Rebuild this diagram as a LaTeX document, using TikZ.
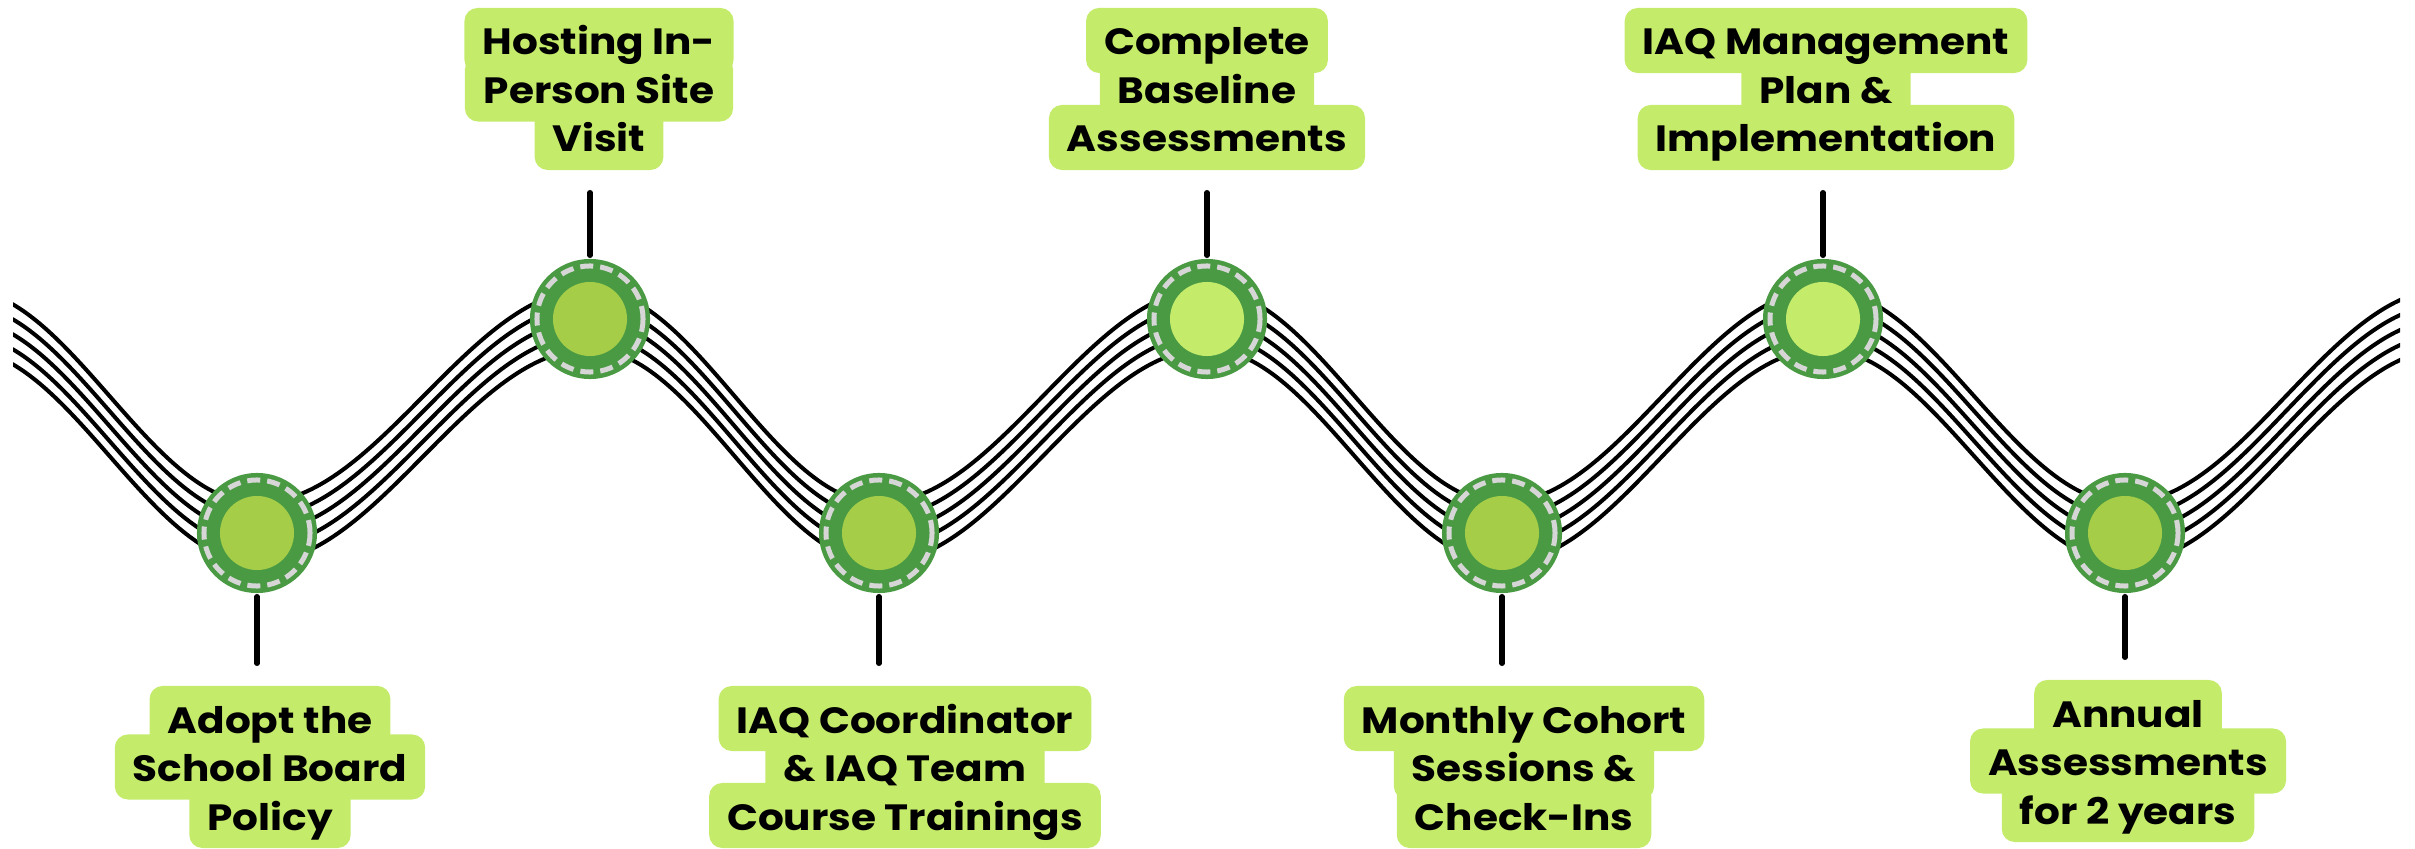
\documentclass[tikz,border=0pt]{standalone}
\usepackage{fontspec}
\setmainfont{Poppins}[FakeStretch=1.11]
\usepackage{tikz}
\usetikzlibrary{calc,positioning}
\definecolor{ring}{HTML}{4A9A44}
\definecolor{leaf}{HTML}{A5CD48}
\definecolor{lime}{HTML}{C5EB6B}
\definecolor{dashgray}{HTML}{D6D6D6}

\begin{document}
\begin{tikzpicture}[
  x=0.01cm, y=-0.01cm,
  wire/.style={line width=0.04cm},
  stem/.style={line width=0.055cm, line cap=round, shorten <=0.03cm, shorten >=0.22cm},
  dot/.style={circle, fill=ring, minimum size=1.2cm, inner sep=0pt,
    path picture={\fill[#1] (path picture bounding box.center) circle (0.37cm);
      \draw[dashgray, line width=0.05cm, dash pattern=on 0.13cm off 0.07cm]
        (path picture bounding box.center) circle (0.53cm);}},
  dot/.default=leaf,
  lbl/.style={fill=lime, rounded corners=0.13cm, anchor=base, inner xsep=0.18cm, inner ysep=0pt,
    text height=0.47cm, text depth=0.18cm, font=\fontsize{10.4}{12}\selectfont\bfseries}
]
\useasboundingbox (0,0) rectangle (2415,849);

% five strands of the wave
\begin{scope}
\clip (13,0) rectangle (2400,849);
\foreach \d in {-30,-15,0,15,30}
  \draw[wire] (-38,{319+\d})
    \foreach \x/\y [remember=\x as \px (initially -38)] in
      {257/533,590/319,879/533,1207/319,1502/533,1823/319,2125/533,2447/319}
    { cos ({(\px+\x)/2},{426+\d}) sin (\x,{\y+\d}) };
\end{scope}

\node[dot] (c1) at (257,533) {};
\node[dot] (c2) at (590,319) {};
\node[dot] (c3) at (879,533) {};
\node[dot=lime] (c4) at (1207,319) {};
\node[dot] (c5) at (1502,533) {};
\node[dot=lime] (c6) at (1823,319) {};
\node[dot] (c7) at (2125,533) {};

% labels, lowest line first
\node[lbl] (t1c) at (270,830) {Policy};
\node[lbl] (t1b) at (270,781.5) {School Board};
\node[lbl] (t1a) at (270,733) {Adopt the};

\node[lbl] (t2c) at (599,152) {Visit};
\node[lbl,minimum width=2.68cm] (t2b) at (599,103.5) {Person Site};
\node[lbl,minimum width=2.68cm] (t2a) at (599,55) {Hosting In-};

\node[lbl] (t3c) at (905,830) {Course Trainings};
\node[lbl] (t3b) at (905,781.5) {\& IAQ Team};
\node[lbl] (t3a) at (905,733) {IAQ Coordinator};

\node[lbl] (t4c) at (1207,152) {Assessments};
\node[lbl] (t4b) at (1207,103.5) {Baseline};
\node[lbl] (t4a) at (1207,55) {Complete};

\node[lbl,minimum width=2.52cm] (t5c) at (1524,830) {Check-Ins};
\node[lbl,minimum width=2.52cm] (t5b) at (1524,781.5) {Sessions \&};
\node[lbl] (t5a) at (1524,733) {Monthly Cohort};

\node[lbl] (t6c) at (1826,152) {Implementation};
\node[lbl] (t6b) at (1826,103.5) {Plan \&};
\node[lbl] (t6a) at (1826,55) {IAQ Management};

\node[lbl] (t7c) at (2128,824) {for 2 years};
\node[lbl] (t7b) at (2128,775.5) {Assessments};
\node[lbl] (t7a) at (2128,727) {Annual};

\draw[stem] (c1) -- (c1 |- t1a.north);
\draw[stem] (c2) -- (c2 |- t2c.south);
\draw[stem] (c3) -- (c3 |- t3a.north);
\draw[stem] (c4) -- (c4 |- t4c.south);
\draw[stem] (c5) -- (c5 |- t5a.north);
\draw[stem] (c6) -- (c6 |- t6c.south);
\draw[stem] (c7) -- (c7 |- t7a.north);
\end{tikzpicture}
\end{document}
